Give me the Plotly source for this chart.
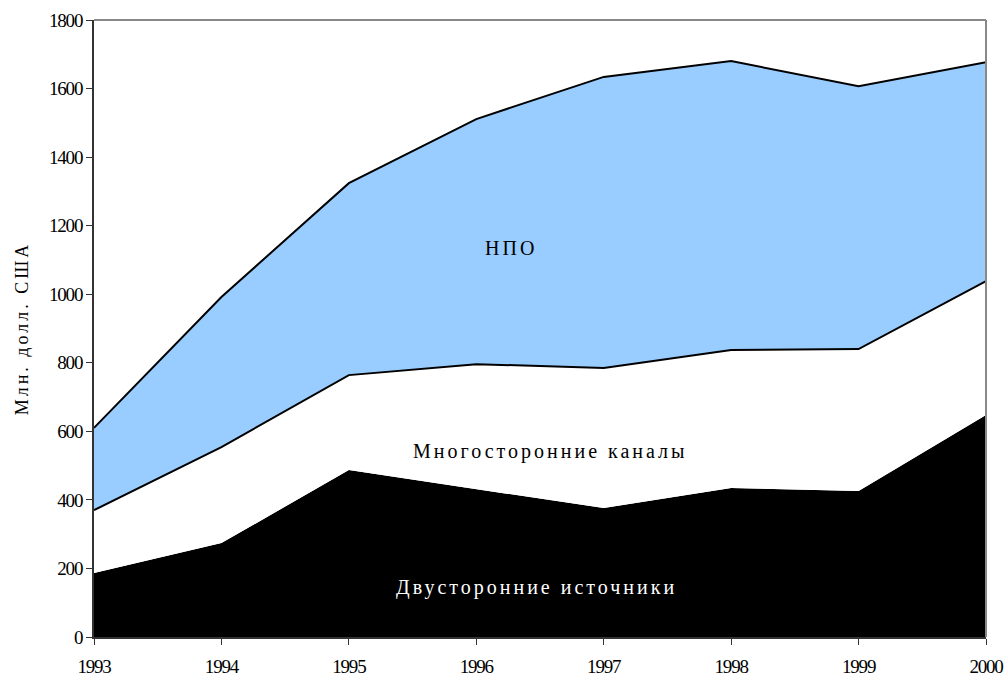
import plotly.graph_objects as go

years = [1993, 1994, 1995, 1996, 1997, 1998, 1999, 2000]
bilateral = [187, 274, 487, 432, 376, 435, 426, 648]
multilateral = [183, 280, 277, 364, 409, 402, 414, 390]
ngo = [240, 438, 560, 715, 849, 843, 767, 639]

y_ticks = list(range(0, 1801, 200))


def sp(text, ls):
    return f'<span style="letter-spacing:{ls}px">{text}</span>'


fig = go.Figure()
fig.add_trace(go.Scatter(x=years, y=bilateral, stackgroup="s", mode="lines",
                         line=dict(color="black", width=0), fillcolor="black",
                         name="Двусторонние источники"))
fig.add_trace(go.Scatter(x=years, y=multilateral, stackgroup="s", mode="lines",
                         line=dict(color="black", width=2), fillcolor="white",
                         name="Многосторонние каналы"))
fig.add_trace(go.Scatter(x=years, y=ngo, stackgroup="s", mode="lines",
                         line=dict(color="black", width=2), fillcolor="#99CCFF",
                         name="НПО"))

font_family = "Liberation Serif"

fig.update_layout(
    width=1005, height=681,
    margin=dict(l=94, r=19, t=20, b=44),
    paper_bgcolor="white", plot_bgcolor="white",
    showlegend=False,
    font=dict(family=font_family, color="black", size=18),
    xaxis=dict(range=[1993, 2000], tickvals=years,
               ticktext=[sp(str(y), -1.2) for y in years],
               showgrid=False, zeroline=False, showline=True, linecolor="#333333",
               linewidth=2, ticks="outside", ticklen=6, tickcolor="#333333",
               ticklabelstandoff=5, tickfont=dict(size=19), automargin=False),
    yaxis=dict(range=[0, 1800], tickvals=y_ticks,
               ticktext=[sp(str(v), -1.2) for v in y_ticks],
               showgrid=False, zeroline=False,
               showline=True, linecolor="#333333", linewidth=2, ticks="outside",
               ticklen=6, tickcolor="#333333", tickfont=dict(size=19),
               automargin=False,
               title=dict(text=sp("Млн. долл. США", 3), font=dict(size=18), standoff=16)),
    shapes=[
        dict(type="line", xref="paper", yref="paper", x0=0, x1=1, y0=1, y1=1,
             line=dict(color="#888888", width=2)),
        dict(type="line", xref="paper", yref="paper", x0=1, x1=1, y0=0, y1=1,
             line=dict(color="#888888", width=2)),
    ],
    annotations=[
        dict(x=1996.27, y=1135, text=sp("НПО", 3), showarrow=False,
             font=dict(size=20, color="black")),
        dict(x=1996.58, y=540, text=sp("Многосторонние каналы", 3), showarrow=False,
             font=dict(size=20, color="black")),
        dict(x=1996.47, y=145, text=sp("Двусторонние источники", 3), showarrow=False,
             font=dict(size=20, color="white")),
    ],
)

fig.write_html(
    "out.html",
    config={"displayModeBar": False},
    post_script="document.body.style.margin='0';document.body.style.overflow='hidden';",
)
